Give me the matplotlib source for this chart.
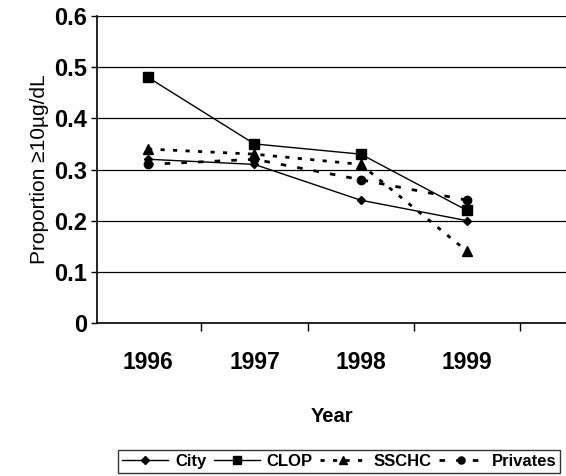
import matplotlib.pyplot as plt

plt.rcParams['font.family'] = ['Liberation Sans', 'DejaVu Sans']

years = ['1996', '1997', '1998', '1999']
city = [0.32, 0.31, 0.24, 0.20]
clop = [0.48, 0.35, 0.33, 0.22]
sschc = [0.34, 0.33, 0.31, 0.14]
privates = [0.31, 0.32, 0.28, 0.24]

x = list(range(len(years)))

fig = plt.figure(figsize=(5.66, 4.76), dpi=100)
ax = fig.add_axes([0.1714, 0.3214, 0.8286, 0.645])

# series
ax.plot(x, city, color='black', lw=1.0, marker='D', ms=4.5, label='City')
ax.plot(x, clop, color='black', lw=1.0, marker='s', ms=7, label='CLOP')
ax.plot(x, sschc, color='black', lw=2.0, dashes=(1.5, 3), marker='^', ms=7, label='SSCHC')
ax.plot(x, privates, color='black', lw=2.0, dashes=(2, 4), marker='o', ms=6, label='Privates')

# axes / grid
ax.set_ylim(0, 0.6)
ax.set_yticks([0, 0.1, 0.2, 0.3, 0.4, 0.5, 0.6])
ax.set_yticklabels(['0', '0.1', '0.2', '0.3', '0.4', '0.5', '0.6'],
                   fontsize=17, fontweight='bold')
ax.set_xlim(-0.48, 3.93)
ax.set_xticks(x)
ax.set_xticklabels(years, fontsize=16.5, fontweight='bold')
ax.set_xticks([0.5, 1.5, 2.5, 3.5], minor=True)
ax.tick_params(axis='x', which='major', length=0, pad=20)
ax.tick_params(axis='x', which='minor', length=6, width=1, direction='out')
ax.tick_params(axis='y', length=4, width=1, direction='out', pad=3)
ax.yaxis.grid(True, color='black', lw=0.9)
ax.set_axisbelow(True)
for s in ['top', 'right']:
    ax.spines[s].set_visible(False)
ax.spines['left'].set_linewidth(1.2)
ax.spines['bottom'].set_linewidth(1.2)

ax.set_xlabel('Year', fontsize=14.5, fontweight='bold', labelpad=24)
ax.set_ylabel('Proportion \u226510\u00b5g/dL', fontsize=15, labelpad=4)

leg = fig.legend(loc='lower left', bbox_to_anchor=(0.2085, 0.006), ncol=4,
                 prop={'weight': 'bold', 'size': 12}, frameon=True,
                 fancybox=False, edgecolor='black', handlelength=2.75,
                 handletextpad=0.42, columnspacing=0.45, borderpad=0.25,
                 borderaxespad=0, markerscale=0.85)
leg.get_frame().set_linewidth(1.0)

fig.savefig('out.png', dpi=100)
